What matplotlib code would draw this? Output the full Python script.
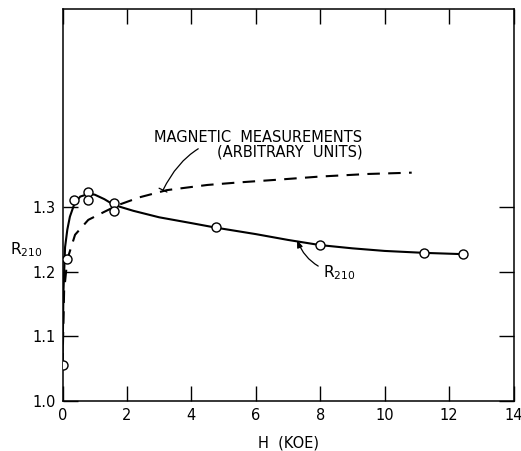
import matplotlib
matplotlib.use("Agg")
import matplotlib.pyplot as plt

# Measured points (open circles)
pts_h = [0.0, 0.15, 0.37, 0.78, 0.78, 1.59, 1.59, 4.76, 8.0, 11.23, 12.44]
pts_r = [1.055, 1.219, 1.311, 1.323, 1.311, 1.306, 1.294, 1.269, 1.241, 1.229, 1.228]

# Solid R210 curve
r_curve_h = [0.0, 0.03, 0.08, 0.15, 0.23, 0.37, 0.55, 0.8, 1.0, 1.3, 1.6, 2.2, 3.0, 4.0, 4.76, 6.0, 7.0, 8.0, 9.0, 10.0, 11.23, 12.44]
r_curve_r = [1.055, 1.17, 1.238, 1.265, 1.285, 1.305, 1.316, 1.320, 1.319, 1.312, 1.303, 1.294, 1.284, 1.275, 1.268, 1.258, 1.249, 1.241, 1.236, 1.232, 1.229, 1.227]

m_curve_h = [0.0, 0.05, 0.15, 0.39, 0.8, 1.32, 1.73, 2.4, 3.24, 4.5, 5.5, 6.65, 8.0, 9.5, 10.84]
m_curve_r = [1.055, 1.17, 1.219, 1.257, 1.280, 1.293, 1.303, 1.315, 1.326, 1.334, 1.338, 1.342, 1.347, 1.351, 1.353]

x_ticks = [0, 2, 4, 6, 8, 10, 12, 14]
y_ticks = [1.0, 1.1, 1.2, 1.3]
y_tick_labels = ["1.0", "1.1", "1.2", "1.3"]

W, H = 521, 451
fig = plt.figure(figsize=(W / 100, H / 100), dpi=100)
ax = fig.add_axes([62.5 / W, 1 - 401 / H, (513.5 - 62.5) / W, (401 - 9) / H])

ax.plot(r_curve_h, r_curve_r, color="black", lw=1.5, zorder=2)
ax.plot(m_curve_h, m_curve_r, color="black", lw=1.5, ls=(0, (6, 4)), zorder=2)
ax.plot(pts_h, pts_r, ls="none", marker="o", ms=6.5, mfc="white", mec="black", mew=1.0, zorder=3)

ax.set_xlim(0, 14)
ax.set_ylim(1.0, 1.606)
ax.set_xticks(x_ticks)
ax.set_xticklabels([str(t) for t in x_ticks])
ax.set_yticks(y_ticks)
ax.set_yticklabels(y_tick_labels)
ax.tick_params(direction="in", length=11, width=1.0, top=True, right=True,
               labelsize=10.5, pad=5, colors="black")
for s in ax.spines.values():
    s.set_linewidth(1.1)

fig.text(288 / W, 1 - 443 / H, "H  (KOE)", ha="center", va="center", fontsize=10.5)
fig.text(10 / W, 1 - 250 / H, r"R$_{\mathrm{210}}$", ha="left", va="center", fontsize=11)

ax.annotate("MAGNETIC  MEASUREMENTS", xy=(3.12, 1.326), xytext=(2.85, 1.408),
            fontsize=10.5, ha="left", va="center",
            arrowprops=dict(arrowstyle="-[, widthB=0.3, lengthB=0.0", color="black", lw=0.9,
                            connectionstyle="arc3,rad=0.35",
                            shrinkA=2, shrinkB=0))
ax.text(4.8, 1.385, "(ARBITRARY  UNITS)", fontsize=10.5, ha="left", va="center")

ax.annotate(r"R$_{\mathrm{210}}$", xy=(7.28, 1.249), xytext=(8.1, 1.198),
            fontsize=11, ha="left", va="center",
            arrowprops=dict(arrowstyle="-|>, head_width=0.15, head_length=0.4", color="black", lw=0.9,
                            connectionstyle="arc3,rad=-0.3", shrinkA=2, shrinkB=0))

fig.savefig("out.png", dpi=100)
